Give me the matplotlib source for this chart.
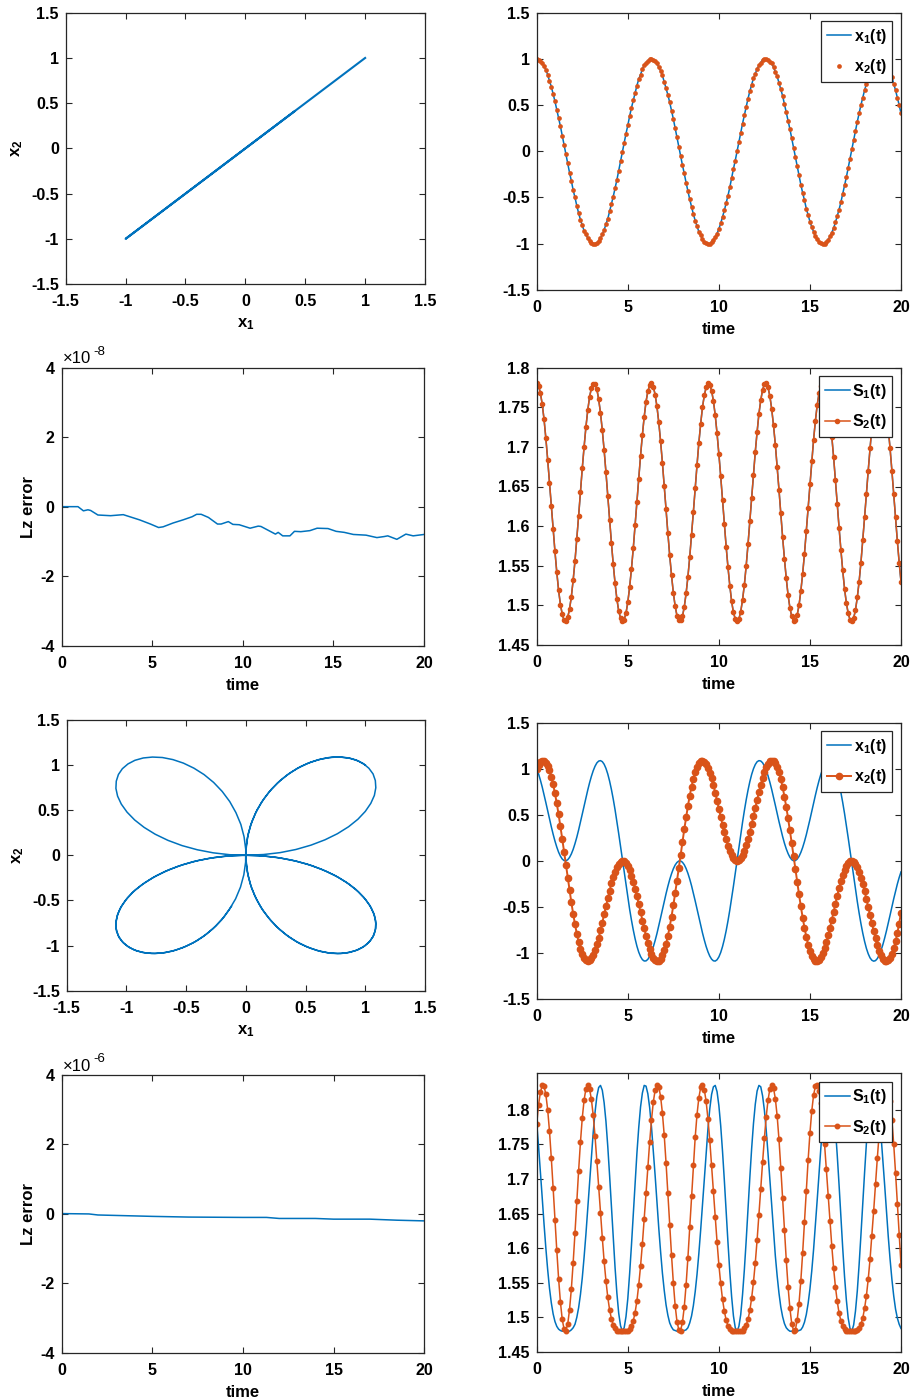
import numpy as np
import matplotlib
matplotlib.use("Agg")
import matplotlib.pyplot as plt

plt.rcParams['font.family'] = ['Liberation Sans', 'DejaVu Sans']
plt.rcParams['font.weight'] = 'bold'
plt.rcParams['axes.labelweight'] = 'bold'
plt.rcParams['mathtext.fontset'] = 'custom'
plt.rcParams['mathtext.rm'] = 'Liberation Sans:bold'
plt.rcParams['mathtext.it'] = 'Liberation Sans:bold'
plt.rcParams['mathtext.bf'] = 'Liberation Sans:bold'

BLUE = '#0072BD'
ORANGE = '#D95319'

# ---- data (time step 0.1, t = 0 ... 20) ----
# case 1: x1(t) and x2(t) lie on top of each other
x1_a = [1.00, 0.99, 0.98, 0.96, 0.92, 0.88, 0.83, 0.76, 0.70, 0.62,
        0.54, 0.45, 0.36, 0.27, 0.17, 0.07, -0.03, -0.13, -0.23, -0.32,
        -0.42, -0.50, -0.59, -0.67, -0.74, -0.80, -0.86, -0.90, -0.94, -0.97,
        -0.99, -1.00, -1.00, -0.99, -0.97, -0.94, -0.90, -0.85, -0.79, -0.73,
        -0.65, -0.57, -0.49, -0.40, -0.31, -0.21, -0.11, -0.01, 0.09, 0.19,
        0.28, 0.38, 0.47, 0.55, 0.63, 0.71, 0.78, 0.83, 0.89, 0.93,
        0.96, 0.98, 1.00,
        1.00, 0.99, 0.98, 0.95, 0.91, 0.87, 0.82, 0.75, 0.68, 0.61,
        0.53, 0.44, 0.35, 0.25, 0.15, 0.05, -0.05, -0.15, -0.24, -0.34,
        -0.43, -0.52, -0.60, -0.68, -0.75, -0.81, -0.87, -0.91, -0.95, -0.98,
        -0.99, -1.00, -1.00, -0.98, -0.96, -0.93, -0.89, -0.84, -0.78, -0.71,
        -0.64, -0.56, -0.48, -0.39, -0.29, -0.19, -0.10, 0.00, 0.10, 0.20,
        0.30, 0.39, 0.48, 0.57, 0.65, 0.72, 0.79, 0.84, 0.89, 0.93,
        0.96, 0.99, 1.00,
        1.00, 0.99, 0.97, 0.95, 0.91, 0.86, 0.81, 0.74, 0.67, 0.60,
        0.51, 0.42, 0.33, 0.24, 0.14, 0.04, -0.06, -0.16, -0.26, -0.36,
        -0.45, -0.53, -0.62, -0.69, -0.76, -0.82, -0.87, -0.92, -0.95, -0.98,
        -0.99, -1.00, -1.00, -0.98, -0.96, -0.92, -0.88, -0.83, -0.77, -0.70,
        -0.63, -0.55, -0.46, -0.37, -0.28, -0.18, -0.08, 0.02, 0.12, 0.22,
        0.32, 0.41, 0.50, 0.58, 0.66, 0.73, 0.80, 0.85, 0.90, 0.94,
        0.97, 0.99, 1.00,
        1.00, 0.99, 0.97, 0.94, 0.90, 0.85, 0.80, 0.73, 0.66, 0.58,
        0.50, 0.41]
x2_a = list(x1_a)

s1_a = [1.780, 1.777, 1.768, 1.754, 1.735, 1.711, 1.684, 1.655, 1.626, 1.596,
        1.568, 1.542, 1.519, 1.501, 1.489, 1.481, 1.480, 1.485, 1.495, 1.511,
        1.532, 1.556, 1.584, 1.613, 1.643, 1.673, 1.700, 1.725, 1.746, 1.763,
        1.774, 1.779, 1.779, 1.773, 1.760, 1.743, 1.721, 1.696, 1.668, 1.638,
        1.608, 1.579, 1.552, 1.528, 1.508, 1.493, 1.484, 1.480, 1.482, 1.490,
        1.504, 1.523, 1.546, 1.572, 1.601, 1.631, 1.660, 1.689, 1.715, 1.738,
        1.757, 1.770, 1.778,
        1.780, 1.776, 1.766, 1.751, 1.731, 1.707, 1.680, 1.651, 1.621, 1.591,
        1.563, 1.538, 1.516, 1.499, 1.487, 1.481, 1.481, 1.486, 1.498, 1.515,
        1.536, 1.561, 1.589, 1.618, 1.648, 1.677, 1.705, 1.729, 1.750, 1.765,
        1.775, 1.780, 1.778, 1.771, 1.758, 1.740, 1.717, 1.691, 1.663, 1.633,
        1.603, 1.574, 1.548, 1.525, 1.505, 1.491, 1.483, 1.480, 1.483, 1.492,
        1.507, 1.526, 1.550, 1.577, 1.606, 1.636, 1.665, 1.694, 1.719, 1.742,
        1.759, 1.772, 1.779,
        1.780, 1.775, 1.764, 1.748, 1.727, 1.703, 1.675, 1.646, 1.616, 1.586,
        1.559, 1.534, 1.513, 1.497, 1.486, 1.480, 1.481, 1.488, 1.500, 1.518,
        1.540, 1.565, 1.594, 1.623, 1.653, 1.682, 1.709, 1.733, 1.753, 1.768,
        1.777, 1.780, 1.778, 1.769, 1.755, 1.737, 1.713, 1.687, 1.658, 1.628,
        1.598, 1.570, 1.544, 1.521, 1.503, 1.490, 1.482, 1.480, 1.484, 1.494,
        1.510, 1.530, 1.554, 1.582, 1.611, 1.641, 1.670, 1.698, 1.724, 1.745,
        1.762, 1.774, 1.780,
        1.779, 1.773, 1.762, 1.745, 1.723, 1.698, 1.670, 1.640, 1.611, 1.581,
        1.554, 1.530]
s2_a = list(s1_a)

# Lz error, case 1 (units of 1e-8)
lz1_t = [0, 0.9, 1.2, 1.45, 1.6, 2.0, 2.7, 3.4, 4.3, 4.9, 5.35, 5.6, 6.15, 6.7,
         7.2, 7.45, 7.7, 8.1, 8.6, 8.8, 9.2, 9.45, 9.8, 10.4, 10.85, 11.0, 11.8,
         11.95, 12.2, 12.6, 12.85, 13.2, 13.7, 14.1, 14.7, 15.15, 15.6, 16.1,
         16.8, 17.4, 17.8, 18.0, 18.5, 19.0, 19.4, 20.0]
lz1_v = [0, 0, -0.12, -0.09, -0.11, -0.24, -0.26, -0.23, -0.38, -0.50, -0.60,
         -0.58, -0.47, -0.38, -0.29, -0.22, -0.22, -0.31, -0.50, -0.50, -0.43,
         -0.51, -0.52, -0.62, -0.56, -0.57, -0.79, -0.74, -0.84, -0.84, -0.71,
         -0.72, -0.69, -0.62, -0.63, -0.71, -0.74, -0.80, -0.82, -0.89, -0.86,
         -0.84, -0.94, -0.79, -0.84, -0.80]

# case 2: four-leaf trajectory
x1_b = [1.000, 0.944, 0.877, 0.802, 0.720, 0.633, 0.544, 0.456, 0.370, 0.289,
        0.215, 0.150, 0.094, 0.051, 0.020, 0.003, 0.001, 0.012, 0.037, 0.075,
        0.125, 0.187, 0.257, 0.336, 0.420, 0.508, 0.596, 0.684, 0.768, 0.847,
        0.917, 0.978, 1.027, 1.063, 1.083, 1.088, 1.077, 1.049, 1.004, 0.943,
        0.866, 0.775, 0.671, 0.555, 0.429, 0.296, 0.158, 0.017, -0.124, -0.263,
        -0.397, -0.525, -0.643, -0.750, -0.845, -0.926, -0.991, -1.039, -1.072, -1.087,
        -1.086, -1.069, -1.037, -0.991, -0.934, -0.865, -0.789, -0.706, -0.618, -0.530,
        -0.442, -0.356, -0.276, -0.203, -0.140, -0.086, -0.045, -0.017, -0.002, -0.001,
        -0.015, -0.042, -0.083, -0.135, -0.198, -0.270, -0.350, -0.435, -0.523, -0.611,
        -0.699, -0.782, -0.859, -0.929, -0.987, -1.034, -1.067, -1.085, -1.088, -1.074,
        -1.043, -0.995, -0.931, -0.852, -0.759, -0.652, -0.534, -0.407, -0.274, -0.135,
        0.006, 0.147, 0.286, 0.419, 0.545, 0.662, 0.767, 0.860, 0.938, 1.000,
        1.046, 1.076, 1.088, 1.084, 1.065, 1.030, 0.983, 0.923, 0.853, 0.775,
        0.691, 0.604, 0.515, 0.427, 0.343, 0.264, 0.192, 0.130, 0.079, 0.039,
        0.013, 0.001, 0.003, 0.019, 0.048, 0.091, 0.145, 0.210, 0.283, 0.364,
        0.449, 0.538, 0.627, 0.713, 0.796, 0.872, 0.940, 0.996, 1.041, 1.072,
        1.088, 1.087, 1.070, 1.036, 0.986, 0.920, 0.838, 0.742, 0.633, 0.514,
        0.386, 0.251, 0.111, -0.030, -0.171, -0.309, -0.441, -0.566, -0.681, -0.784,
        -0.874, -0.950, -1.009, -1.053, -1.079, -1.089, -1.083, -1.061, -1.024, -0.973,
        -0.912, -0.840, -0.761, -0.677, -0.589, -0.500, -0.412, -0.329, -0.251, -0.181,
        -0.120]
x2_b = [1.000, 1.043, 1.073, 1.087, 1.086, 1.067, 1.032, 0.981, 0.913, 0.830,
        0.733, 0.624, 0.504, 0.375, 0.239, 0.100, -0.041, -0.182, -0.319, -0.451,
        -0.575, -0.689, -0.791, -0.880, -0.954, -1.013, -1.055, -1.080, -1.089, -1.081,
        -1.057, -1.020, -0.969, -0.906, -0.834, -0.755, -0.670, -0.581, -0.493, -0.406,
        -0.322, -0.245, -0.176, -0.116, -0.068, -0.032, -0.009, 0.000, -0.005, -0.025,
        -0.057, -0.103, -0.160, -0.227, -0.303, -0.384, -0.471, -0.559, -0.648, -0.734,
        -0.815, -0.889, -0.954, -1.008, -1.050, -1.077, -1.088, -1.084, -1.063, -1.025,
        -0.971, -0.900, -0.815, -0.716, -0.604, -0.483, -0.353, -0.216, -0.076, 0.065,
        0.205, 0.342, 0.472, 0.595, 0.707, 0.807, 0.894, 0.965, 1.021, 1.060,
        1.083, 1.088, 1.078, 1.052, 1.012, 0.959, 0.895, 0.821, 0.741, 0.655,
        0.567, 0.478, 0.391, 0.309, 0.233, 0.165, 0.107, 0.061, 0.027, 0.006,
        0.000, 0.008, 0.029, 0.064, 0.112, 0.171, 0.239, 0.316, 0.399, 0.486,
        0.575, 0.663, 0.748, 0.828, 0.901, 0.964, 1.016, 1.056, 1.080, 1.089,
        1.082, 1.058, 1.017, 0.960, 0.887, 0.800, 0.698, 0.585, 0.462, 0.330,
        0.193, 0.053, -0.089, -0.228, -0.364, -0.494, -0.615, -0.725, -0.823, -0.908,
        -0.977, -1.029, -1.066, -1.086, -1.089, -1.075, -1.047, -1.004, -0.950, -0.884,
        -0.809, -0.727, -0.641, -0.552, -0.464, -0.377, -0.296, -0.221, -0.155, -0.098,
        -0.054, -0.022, -0.004, 0.000, -0.010, -0.034, -0.071, -0.121, -0.182, -0.252,
        -0.330, -0.413, -0.501, -0.590, -0.678, -0.762, -0.841, -0.913, -0.974, -1.024,
        -1.060, -1.082, -1.089, -1.079, -1.052, -1.008, -0.949, -0.873, -0.783, -0.680,
        -0.564]

s1_b = [1.780, 1.747, 1.711, 1.673, 1.635, 1.600, 1.569, 1.542, 1.521, 1.505,
        1.494, 1.487, 1.483, 1.481, 1.480, 1.480, 1.480, 1.480, 1.480, 1.482,
        1.485, 1.490, 1.500, 1.514, 1.533, 1.557, 1.587, 1.620, 1.657, 1.695,
        1.733, 1.767, 1.796, 1.819, 1.832, 1.835, 1.828, 1.810, 1.783, 1.747,
        1.705, 1.660, 1.615, 1.572, 1.535, 1.506, 1.488, 1.480, 1.485, 1.501,
        1.527, 1.563, 1.604, 1.649, 1.694, 1.737, 1.774, 1.804, 1.824, 1.835,
        1.834, 1.823, 1.803, 1.775, 1.741, 1.705, 1.667, 1.629, 1.595, 1.564,
        1.539, 1.518, 1.503, 1.492, 1.486, 1.482, 1.481, 1.480, 1.480, 1.480,
        1.480, 1.481, 1.482, 1.485, 1.492, 1.502, 1.517, 1.537, 1.562, 1.592,
        1.626, 1.663, 1.702, 1.739, 1.772, 1.801, 1.822, 1.833, 1.835, 1.826,
        1.806, 1.777, 1.740, 1.698, 1.653, 1.608, 1.566, 1.530, 1.502, 1.485,
        1.480, 1.487, 1.504, 1.533, 1.569, 1.611, 1.657, 1.702, 1.744, 1.780,
        1.808, 1.827, 1.835, 1.833, 1.820, 1.799, 1.770, 1.736, 1.699, 1.660,
        1.623, 1.589, 1.560, 1.535, 1.515, 1.501, 1.491, 1.485, 1.482, 1.480,
        1.480, 1.480, 1.480, 1.480, 1.481, 1.482, 1.486, 1.493, 1.504, 1.520,
        1.541, 1.567, 1.598, 1.633, 1.670, 1.708, 1.745, 1.778, 1.805, 1.825,
        1.835, 1.835, 1.824, 1.802, 1.772, 1.734, 1.691, 1.645, 1.600, 1.559,
        1.525, 1.499, 1.484, 1.480, 1.489, 1.509, 1.538, 1.576, 1.619, 1.665,
        1.709, 1.751, 1.786, 1.813, 1.830, 1.836, 1.832, 1.817, 1.795, 1.764,
        1.729, 1.692, 1.654, 1.617, 1.584, 1.555, 1.531, 1.512, 1.499, 1.490,
        1.484]
s2_b = [1.780, 1.807, 1.825, 1.835, 1.834, 1.822, 1.800, 1.769, 1.730, 1.687,
        1.641, 1.597, 1.556, 1.522, 1.497, 1.483, 1.481, 1.490, 1.511, 1.541,
        1.579, 1.622, 1.668, 1.712, 1.753, 1.788, 1.814, 1.830, 1.836, 1.830,
        1.815, 1.792, 1.762, 1.726, 1.689, 1.651, 1.615, 1.581, 1.553, 1.529,
        1.511, 1.498, 1.489, 1.484, 1.481, 1.480, 1.480, 1.480, 1.480, 1.480,
        1.481, 1.483, 1.488, 1.495, 1.507, 1.524, 1.547, 1.574, 1.606, 1.642,
        1.679, 1.717, 1.753, 1.785, 1.811, 1.828, 1.835, 1.833, 1.819, 1.795,
        1.763, 1.723, 1.679, 1.634, 1.590, 1.550, 1.517, 1.494, 1.482, 1.481,
        1.493, 1.515, 1.547, 1.586, 1.630, 1.676, 1.720, 1.760, 1.793, 1.817,
        1.832, 1.835, 1.829, 1.812, 1.787, 1.756, 1.720, 1.682, 1.645, 1.609,
        1.576, 1.549, 1.526, 1.509, 1.496, 1.488, 1.483, 1.481, 1.480, 1.480,
        1.480, 1.480, 1.480, 1.481, 1.484, 1.489, 1.497, 1.510, 1.528, 1.551,
        1.579, 1.612, 1.648, 1.686, 1.724, 1.759, 1.790, 1.814, 1.830, 1.836,
        1.831, 1.816, 1.791, 1.757, 1.716, 1.672, 1.626, 1.583, 1.544, 1.513,
        1.491, 1.481, 1.482, 1.496, 1.520, 1.553, 1.593, 1.638, 1.683, 1.727,
        1.766, 1.798, 1.821, 1.834, 1.836, 1.827, 1.809, 1.782, 1.751, 1.714,
        1.676, 1.639, 1.603, 1.571, 1.544, 1.523, 1.506, 1.495, 1.487, 1.483,
        1.481, 1.480, 1.480, 1.480, 1.480, 1.480, 1.482, 1.484, 1.490, 1.499,
        1.513, 1.531, 1.555, 1.584, 1.618, 1.654, 1.692, 1.730, 1.765, 1.794,
        1.817, 1.831, 1.836, 1.829, 1.812, 1.785, 1.750, 1.709, 1.664, 1.619,
        1.576]

# Lz error, case 2 (units of 1e-6)
lz2_t = [0, 1.5, 2.0, 5.0, 7.0, 10.0, 11.3, 12.0, 14.0, 15.0, 17.0, 18.5, 20.0]
lz2_v = [0.01, 0.0, -0.03, -0.07, -0.09, -0.10, -0.10, -0.13, -0.13, -0.15,
         -0.15, -0.18, -0.20]

for arr in (x1_a, s1_a, x1_b, x2_b, s1_b, s2_b):
    assert len(arr) == 201, len(arr)

t = np.linspace(0, 20, 201)

# ticks
xy_ticks = [-1.5, -1, -0.5, 0, 0.5, 1, 1.5]
xy_labels = ['-1.5', '-1', '-0.5', '0', '0.5', '1', '1.5']
t_ticks = [0, 5, 10, 15, 20]
t_labels = ['0', '5', '10', '15', '20']
s_ticks = [1.45, 1.5, 1.55, 1.6, 1.65, 1.7, 1.75, 1.8]
s_labels = ['1.45', '1.5', '1.55', '1.6', '1.65', '1.7', '1.75', '1.8']
lz_ticks = [-4, -2, 0, 2, 4]
lz_labels = ['-4', '-2', '0', '2', '4']

FS = 11.5
LFS = 12


def style(ax):
    ax.tick_params(direction='in', top=True, right=True, length=4, width=0.8,
                   labelsize=FS, color='#262626')
    ax.tick_params(axis='x', pad=7.5)
    ax.tick_params(axis='y', pad=5)
    for sp in ax.spines.values():
        sp.set_color('#262626')
        sp.set_linewidth(0.9)


def leg(ax, handles):
    lg = ax.legend(handles=handles, loc='upper right', fontsize=FS,
                   handlelength=1.55, handletextpad=0.15, borderpad=0.35,
                   labelspacing=0.7, borderaxespad=0.55, fancybox=False,
                   framealpha=1.0)
    lg.get_frame().set_edgecolor('#262626')
    lg.get_frame().set_linewidth(0.9)


def exponent(ax, power):
    ax.annotate('\u00d710', xy=(0, 1), xycoords='axes fraction', xytext=(1, 1),
                textcoords='offset points', ha='left', va='bottom',
                fontsize=12, fontweight='normal')
    ax.annotate(power, xy=(0, 1), xycoords='axes fraction', xytext=(23, 7),
                textcoords='offset points', ha='left', va='bottom',
                fontsize=9.5, fontweight='normal')


def time_axis(ax):
    ax.set_xlim(0, 20)
    ax.set_xticks(t_ticks)
    ax.set_xticklabels(t_labels)
    ax.set_xlabel('time', fontsize=LFS, labelpad=5)


fig = plt.figure(figsize=(9.15, 14), dpi=100)

# row 1 left: phase plot
ax = fig.add_axes([0.0718, 0.7971, 0.3927, 0.1938])
ax.plot(x1_a, x2_a, color=BLUE, lw=1.5)
ax.set_xlim(-1.5, 1.5)
ax.set_ylim(-1.5, 1.5)
ax.set_xticks(xy_ticks)
ax.set_xticklabels(xy_labels)
ax.set_yticks(xy_ticks)
ax.set_yticklabels(xy_labels)
ax.set_xlabel('x$_1$', fontsize=LFS, labelpad=5)
ax.set_ylabel('x$_2$', fontsize=LFS, labelpad=4)
style(ax)

# row 1 right: time series
ax = fig.add_axes([0.5866, 0.7929, 0.3981, 0.1981])
h1, = ax.plot(t, x1_a, color=BLUE, lw=1.1, label='x$_1$(t)')
h2, = ax.plot(t, x2_a, 'o', color=ORANGE, ms=3.4, mew=0, label='x$_2$(t)')
ax.set_ylim(-1.5, 1.5)
ax.set_yticks(xy_ticks)
ax.set_yticklabels(xy_labels)
time_axis(ax)
style(ax)
leg(ax, [h1, h2])

# row 2 left: Lz error
ax = fig.add_axes([0.0674, 0.5388, 0.3960, 0.1986])
ax.plot(lz1_t, lz1_v, color=BLUE, lw=1.1)
ax.set_ylim(-4, 4)
ax.set_yticks(lz_ticks)
ax.set_yticklabels(lz_labels)
ax.set_ylabel('Lz error', fontsize=LFS, labelpad=3)
time_axis(ax)
style(ax)
exponent(ax, '-8')

# row 2 right: S1, S2
ax = fig.add_axes([0.5866, 0.5393, 0.3981, 0.1981])
h1, = ax.plot(t, s1_a, color=BLUE, lw=1.1, label='S$_1$(t)')
h2, = ax.plot(t, s2_a, '.-', color=ORANGE, lw=1.1, ms=6, label='S$_2$(t)')
ax.set_ylim(1.45, 1.8)
ax.set_yticks(s_ticks)
ax.set_yticklabels(s_labels)
time_axis(ax)
style(ax)
leg(ax, [h1, h2])

# row 3 left: four-leaf phase plot
ax = fig.add_axes([0.0729, 0.2924, 0.3916, 0.1934])
ax.plot(x1_b, x2_b, color=BLUE, lw=1.1)
ax.set_xlim(-1.5, 1.5)
ax.set_ylim(-1.5, 1.5)
ax.set_xticks(xy_ticks)
ax.set_xticklabels(xy_labels)
ax.set_yticks(xy_ticks)
ax.set_yticklabels(xy_labels)
ax.set_xlabel('x$_1$', fontsize=LFS, labelpad=5)
ax.set_ylabel('x$_2$', fontsize=LFS, labelpad=4)
style(ax)

# row 3 right
ax = fig.add_axes([0.5866, 0.2864, 0.3981, 0.1974])
h1, = ax.plot(t, x1_b, color=BLUE, lw=1.1, label='x$_1$(t)')
h2, = ax.plot(t, x2_b, '.-', color=ORANGE, lw=1.4, ms=9, label='x$_2$(t)')
ax.set_ylim(-1.5, 1.5)
ax.set_yticks(xy_ticks)
ax.set_yticklabels(xy_labels)
time_axis(ax)
style(ax)
leg(ax, [h1, h2])

# row 4 left: Lz error
ax = fig.add_axes([0.0674, 0.0336, 0.3962, 0.1986])
ax.plot(lz2_t, lz2_v, color=BLUE, lw=1.1)
ax.set_ylim(-4, 4)
ax.set_yticks(lz_ticks)
ax.set_yticklabels(lz_labels)
ax.set_ylabel('Lz error', fontsize=LFS, labelpad=3)
time_axis(ax)
style(ax)
exponent(ax, '-6')

# row 4 right
ax = fig.add_axes([0.5866, 0.0343, 0.3981, 0.1993])
h1, = ax.plot(t, s1_b, color=BLUE, lw=1.1, label='S$_1$(t)')
h2, = ax.plot(t, s2_b, '.-', color=ORANGE, lw=1.1, ms=6.5, label='S$_2$(t)')
ax.set_ylim(1.45, 1.853)
ax.set_yticks(s_ticks)
ax.set_yticklabels(s_labels)
time_axis(ax)
style(ax)
leg(ax, [h1, h2])

fig.savefig('out.png', dpi=100)
